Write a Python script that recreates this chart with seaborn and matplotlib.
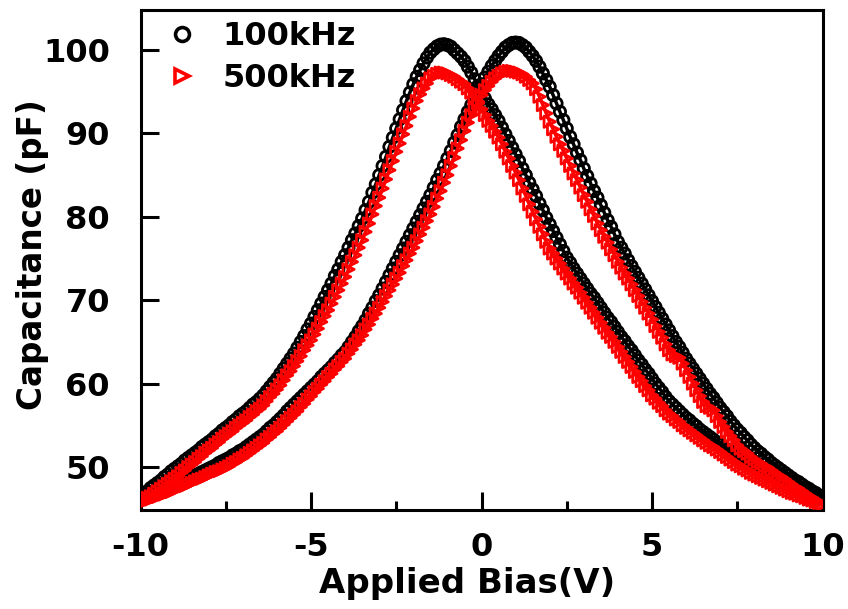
import numpy as np
import pandas as pd
import matplotlib
matplotlib.use("Agg")
import matplotlib.pyplot as plt
import seaborn as sns
from matplotlib.ticker import MultipleLocator, NullLocator, FixedLocator
from matplotlib.lines import Line2D

# ---------------- data ----------------
bias = np.linspace(-10, 10, 201)

# 100 kHz, forward sweep (peak near +1 V)
c100_fwd = [46.4, 46.5, 46.7, 46.8, 47.0,
            47.1, 47.3, 47.4, 47.6, 47.7,
            47.9, 48.1, 48.3, 48.4, 48.6,
            48.8, 49.0, 49.2, 49.4, 49.6,
            49.8, 50.0, 50.2, 50.5, 50.7,
            50.9, 51.1, 51.4, 51.6, 51.9,
            52.1, 52.4, 52.7, 53.0, 53.3,
            53.6, 53.9, 54.3, 54.7, 55.0,
            55.4, 55.8, 56.2, 56.7, 57.1,
            57.5, 57.9, 58.3, 58.7, 59.1,
            59.5, 59.9, 60.3, 60.8, 61.2,
            61.6, 62.0, 62.5, 62.9, 63.4,
            63.8, 64.4, 65.0, 65.6, 66.3,
            66.9, 67.6, 68.4, 69.1, 69.9,
            70.6, 71.4, 72.2, 73.0, 73.8,
            74.6, 75.4, 76.2, 77.0, 77.8,
            78.6, 79.4, 80.2, 81.0, 81.8,
            82.6, 83.5, 84.4, 85.2, 86.1,
            87.0, 87.9, 88.9, 89.8, 90.8,
            91.7, 92.6, 93.4, 94.3, 95.1,
            95.9, 96.7, 97.4, 98.1, 98.7,
            99.3, 99.8, 100.3, 100.6, 100.85,
            100.9, 100.85, 100.6, 100.3, 99.8,
            99.3, 98.7, 98.0, 97.2, 96.4,
            95.6, 94.6, 93.6, 92.6, 91.6,
            90.6, 89.6, 88.7, 87.7, 86.8,
            85.8, 84.9, 84.0, 83.1, 82.3,
            81.4, 80.5, 79.6, 78.8, 77.9,
            77.0, 76.3, 75.6, 74.8, 74.1,
            73.4, 72.7, 72.0, 71.3, 70.6,
            69.9, 69.2, 68.5, 67.8, 67.1,
            66.4, 65.7, 65.0, 64.4, 63.7,
            63.0, 62.4, 61.8, 61.2, 60.6,
            60.0, 59.4, 58.8, 58.3, 57.7,
            57.1, 56.6, 56.1, 55.5, 55.0,
            54.5, 54.1, 53.6, 53.2, 52.7,
            52.3, 51.9, 51.6, 51.2, 50.9,
            50.5, 50.2, 49.9, 49.6, 49.3,
            49.0, 48.7, 48.4, 48.2, 47.9,
            47.6, 47.4, 47.1, 46.9, 46.6,
            46.4]

# 100 kHz, reverse sweep (peak near -1.2 V)
c100_rev = [46.5, 46.8, 47.1, 47.5, 47.8,
            48.1, 48.4, 48.8, 49.1, 49.5,
            49.8, 50.1, 50.4, 50.8, 51.1,
            51.4, 51.7, 52.0, 52.4, 52.7,
            53.0, 53.3, 53.7, 54.0, 54.4,
            54.7, 55.0, 55.4, 55.7, 56.1,
            56.4, 56.7, 57.1, 57.5, 57.8,
            58.2, 58.6, 59.1, 59.6, 60.1,
            60.6, 61.2, 61.8, 62.4, 63.0,
            63.6, 64.3, 65.0, 65.7, 66.5,
            67.2, 68.0, 68.8, 69.6, 70.4,
            71.2, 72.0, 72.9, 73.7, 74.6,
            75.4, 76.3, 77.2, 78.0, 78.9,
            79.8, 80.8, 81.8, 82.9, 83.9,
            85.0, 86.1, 87.2, 88.4, 89.5,
            90.6, 91.7, 92.8, 93.9, 94.9,
            95.9, 96.8, 97.6, 98.4, 99.1,
            99.7, 100.1, 100.45, 100.65, 100.7,
            100.6, 100.4, 100.0, 99.6, 99.2,
            98.7, 98.0, 97.3, 96.5, 95.7,
            94.9, 94.2, 93.5, 92.9, 92.2,
            91.5, 90.7, 89.9, 89.1, 88.3,
            87.5, 86.7, 85.8, 85.0, 84.1,
            83.3, 82.5, 81.6, 80.8, 79.9,
            79.1, 78.3, 77.5, 76.7, 75.9,
            75.1, 74.5, 73.8, 73.2, 72.6,
            72.0, 71.4, 70.8, 70.3, 69.7,
            69.1, 68.5, 67.9, 67.4, 66.8,
            66.2, 65.6, 65.1, 64.5, 64.0,
            63.4, 62.8, 62.3, 61.7, 61.2,
            60.6, 60.0, 59.5, 59.0, 58.4,
            57.9, 57.5, 57.1, 56.7, 56.3,
            55.9, 55.6, 55.2, 54.9, 54.5,
            54.2, 53.9, 53.6, 53.3, 53.0,
            52.7, 52.4, 52.1, 51.9, 51.6,
            51.3, 51.0, 50.8, 50.5, 50.3,
            50.0, 49.8, 49.6, 49.3, 49.1,
            48.9, 48.7, 48.5, 48.3, 48.1,
            47.9, 47.7, 47.6, 47.4, 47.3,
            47.1, 47.0, 46.8, 46.7, 46.5,
            46.4]

# 500 kHz, forward sweep (peak near +0.9 V)
c500_fwd = [45.7, 45.8, 46.0, 46.1, 46.3,
            46.4, 46.6, 46.7, 46.9, 47.0,
            47.2, 47.4, 47.6, 47.7, 47.9,
            48.1, 48.3, 48.5, 48.6, 48.8,
            49.0, 49.2, 49.4, 49.5, 49.7,
            49.9, 50.1, 50.4, 50.6, 50.9,
            51.1, 51.4, 51.7, 52.0, 52.3,
            52.6, 52.9, 53.3, 53.6, 54.0,
            54.3, 54.7, 55.1, 55.5, 55.9,
            56.3, 56.7, 57.2, 57.6, 58.1,
            58.5, 59.0, 59.4, 59.9, 60.3,
            60.8, 61.2, 61.7, 62.1, 62.6,
            63.0, 63.6, 64.1, 64.7, 65.2,
            65.8, 66.5, 67.1, 67.8, 68.4,
            69.1, 69.8, 70.5, 71.2, 71.9,
            72.6, 73.3, 74.1, 74.8, 75.6,
            76.3, 77.1, 77.9, 78.7, 79.5,
            80.3, 81.2, 82.2, 83.1, 84.1,
            85.0, 86.1, 87.1, 88.2, 89.2,
            90.3, 91.3, 92.2, 93.0, 93.8,
            94.6, 95.2, 95.7, 96.2, 96.6,
            96.9, 97.2, 97.4, 97.5, 97.5,
            97.4, 97.3, 97.1, 96.8, 96.4,
            96.0, 95.3, 94.4, 93.4, 92.4,
            91.4, 90.5, 89.6, 88.7, 87.9,
            87.0, 86.1, 85.2, 84.4, 83.5,
            82.6, 81.8, 80.9, 80.1, 79.2,
            78.4, 77.6, 76.9, 76.1, 75.4,
            74.6, 73.9, 73.2, 72.6, 71.9,
            71.2, 70.5, 69.8, 69.1, 68.4,
            67.7, 66.9, 66.2, 65.5, 64.7,
            64.0, 63.5, 63.3, 63.1, 62.4,
            61.6, 60.8, 60.0, 59.2, 58.5,
            57.8, 57.3, 57.1, 56.8, 56.1,
            55.4, 54.8, 54.2, 53.7, 53.2,
            52.6, 52.2, 51.9, 51.6, 51.2,
            50.9, 50.6, 50.4, 50.1, 49.9,
            49.6, 49.3, 49.0, 48.8, 48.5,
            48.2, 47.9, 47.6, 47.4, 47.1,
            46.8, 46.5, 46.3, 46.0, 45.8,
            45.5]

# 500 kHz, reverse sweep (peak near -1.2 V)
c500_rev = [45.7, 46.0, 46.3, 46.5, 46.8,
            47.1, 47.4, 47.7, 48.0, 48.3,
            48.6, 48.9, 49.3, 49.6, 50.0,
            50.3, 50.6, 51.0, 51.3, 51.7,
            52.0, 52.3, 52.7, 53.0, 53.4,
            53.7, 54.0, 54.3, 54.7, 55.0,
            55.3, 55.6, 56.0, 56.3, 56.7,
            57.0, 57.4, 57.9, 58.4, 58.8,
            59.3, 59.8, 60.4, 61.0, 61.5,
            62.1, 62.7, 63.3, 64.0, 64.6,
            65.2, 65.9, 66.6, 67.4, 68.1,
            68.8, 69.6, 70.4, 71.2, 72.0,
            72.8, 73.7, 74.6, 75.4, 76.3,
            77.2, 78.2, 79.2, 80.3, 81.3,
            82.3, 83.4, 84.5, 85.6, 86.7,
            87.8, 88.8, 89.9, 90.9, 92.0,
            93.0, 93.9, 94.7, 95.4, 96.0,
            96.6, 96.9, 97.15, 97.3, 97.3,
            97.2, 97.0, 96.8, 96.5, 96.2,
            95.9, 95.4, 94.9, 94.3, 93.6,
            92.9, 92.2, 91.5, 90.9, 90.2,
            89.5, 88.7, 87.8, 87.0, 86.1,
            85.3, 84.4, 83.4, 82.5, 81.5,
            80.6, 79.7, 78.8, 77.9, 77.0,
            76.2, 75.6, 75.0, 74.4, 73.8,
            73.2, 72.6, 72.0, 71.5, 70.9,
            70.3, 69.7, 69.1, 68.5, 67.9,
            67.3, 66.7, 66.1, 65.6, 65.0,
            64.4, 63.8, 63.2, 62.6, 62.0,
            61.4, 60.8, 60.3, 59.7, 59.2,
            58.6, 58.2, 57.7, 57.3, 56.8,
            56.4, 56.1, 55.7, 55.4, 55.0,
            54.7, 54.4, 54.1, 53.8, 53.5,
            53.2, 52.9, 52.6, 52.4, 52.1,
            51.8, 51.5, 51.2, 50.9, 50.6,
            50.3, 50.1, 49.8, 49.6, 49.3,
            49.1, 48.9, 48.7, 48.5, 48.3,
            48.1, 47.9, 47.7, 47.5, 47.3,
            47.1, 46.9, 46.8, 46.6, 46.5,
            46.3, 46.1, 46.0, 45.8, 45.7,
            45.5]

freq_labels = ["100kHz", "500kHz"]
x_ticks = [-10, -5, 0, 5, 10]
y_ticks = [50, 60, 70, 80, 90, 100]

# ---------------- style ----------------
sns.set_style("ticks")
plt.rcParams["font.family"] = ["DejaVu Sans"]
plt.rcParams["font.weight"] = "bold"
plt.rcParams["axes.labelweight"] = "bold"
plt.rcParams["axes.unicode_minus"] = False
plt.rcParams["text.color"] = "black"
plt.rcParams["axes.labelcolor"] = "black"
plt.rcParams["xtick.color"] = "black"
plt.rcParams["ytick.color"] = "black"
plt.rcParams["axes.edgecolor"] = "black"

fig = plt.figure(figsize=(8.48, 6.09), dpi=100)
W, H = 848, 609
ax = fig.add_axes([140.5 / W, 1 - 510 / H, 682 / W, 500 / H])

series = [
    (c100_fwd, freq_labels[0], "black", "o"),
    (c100_rev, freq_labels[0], "black", "o"),
    (c500_fwd, freq_labels[1], "#ff0000", ">"),
    (c500_rev, freq_labels[1], "#ff0000", ">"),
]

msize = 66
mlw = 2.0
z = 3
for vals, lab, col, mk in series:
    d = pd.DataFrame({"bias": bias, "cap": vals})
    # trace through the dense marker band
    sns.lineplot(data=d, x="bias", y="cap", ax=ax, sort=False, estimator=None,
                 color=col, linewidth=2.5, legend=False, zorder=z)
    sns.scatterplot(data=d, x="bias", y="cap", ax=ax, marker=mk, s=msize,
                    color=col, facecolors="none", edgecolor=col,
                    linewidth=mlw, legend=False, zorder=z + 0.5)
    z += 1

ax.set_xlim(-10, 10)
ax.set_ylim(44.85, 104.8)
ax.xaxis.set_major_locator(FixedLocator(x_ticks))
ax.yaxis.set_major_locator(FixedLocator(y_ticks))
ax.xaxis.set_minor_locator(MultipleLocator(2.5))
ax.yaxis.set_minor_locator(NullLocator())

for sp in ax.spines.values():
    sp.set_linewidth(2.2)
    sp.set_color("black")
    sp.set_visible(True)

ax.tick_params(axis="both", which="major", direction="in", length=13, width=2.2,
               labelsize=23, colors="black")
ax.tick_params(axis="x", which="major", pad=16)
ax.tick_params(axis="y", which="major", pad=22)
ax.tick_params(axis="x", which="minor", direction="in", length=6.5, width=2.2)

ax.set_xlabel("Applied Bias(V)", fontsize=24.5, fontweight="bold", color="black")
ax.set_ylabel("Capacitance (pF)", fontsize=23.5, fontweight="bold", color="black")
ax.xaxis.set_label_coords(0.479, -0.114)
ax.yaxis.set_label_coords(-0.134, 0.51)

handles = [
    Line2D([], [], ls="", marker="o", ms=10, mfc="none", mec="black", mew=2.6),
    Line2D([], [], ls="", marker=">", ms=10, mfc="none", mec="#ff0000", mew=2.6),
]
leg = ax.legend(handles, freq_labels, loc="upper left", bbox_to_anchor=(0.0186, 1.003),
                frameon=False, handlelength=1.0, handletextpad=0.78,
                labelspacing=0.33, borderaxespad=0.0, borderpad=0.4,
                prop={"weight": "bold", "size": 23})
for t in leg.get_texts():
    t.set_color("black")

fig.savefig("out.png", dpi=100)
